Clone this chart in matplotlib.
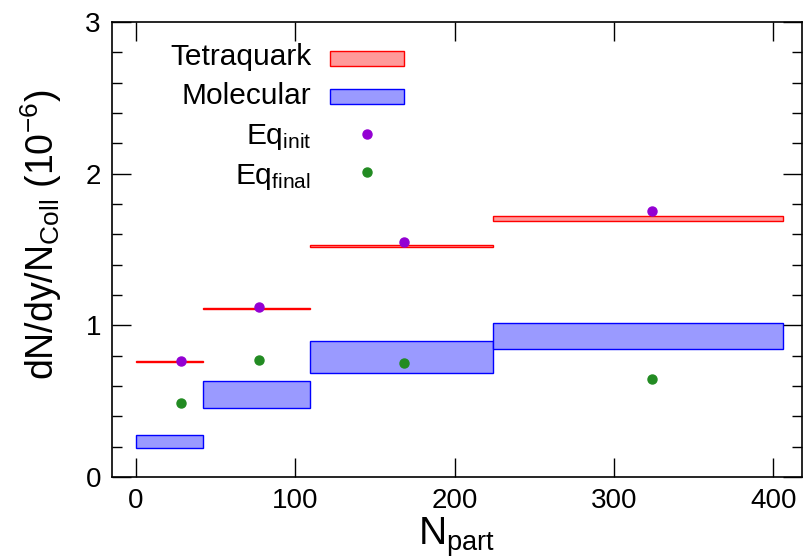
import matplotlib.pyplot as plt
from matplotlib.patches import Rectangle
from matplotlib.ticker import MultipleLocator

# bin edges in N_part
bin_left = [0, 42, 109, 224]
bin_right = [42, 109, 224, 406]

# tetraquark bands (low, high)
tetra_low = [0.755, 1.108, 1.515, 1.690]
tetra_high = [0.763, 1.116, 1.527, 1.719]

# molecular bands (low, high)
mol_low = [0.19, 0.454, 0.689, 0.842]
mol_high = [0.274, 0.634, 0.899, 1.018]

# equilibrium points
eq_x = [28, 77, 168, 324]
eq_init = [0.765, 1.118, 1.548, 1.752]
eq_final = [0.485, 0.774, 0.754, 0.645]

fam = 'Liberation Sans'
plt.rcParams['font.family'] = [fam, 'DejaVu Sans']
plt.rcParams['mathtext.fontset'] = 'custom'
plt.rcParams['mathtext.rm'] = fam
plt.rcParams['mathtext.it'] = fam

fig = plt.figure(figsize=(8.05, 5.58), dpi=100)
ax = fig.add_axes([112 / 805, 1 - 477 / 558, (802 - 112) / 805, (477 - 22) / 558])

red_edge = '#ff0000'
red_fill = '#ff9a9a'
blue_edge = '#0000ff'
blue_fill = '#9a9aff'

for i in range(len(bin_left)):
    w = bin_right[i] - bin_left[i]
    ax.add_patch(Rectangle((bin_left[i], mol_low[i]), w, mol_high[i] - mol_low[i],
                           facecolor=blue_fill, edgecolor=blue_edge, lw=1.0, zorder=2))
    ax.add_patch(Rectangle((bin_left[i], tetra_low[i]), w, tetra_high[i] - tetra_low[i],
                           facecolor=red_fill, edgecolor=red_edge, lw=1.0, zorder=2))

ax.plot(eq_x, eq_init, 'o', color='#9400d3', ms=6.5, zorder=3)
ax.plot(eq_x, eq_final, 'o', color='#228b22', ms=6.5, zorder=3)

# legend drawn by hand (gnuplot style)
leg_labels = ['Tetraquark', 'Molecular', r'Eq$_{\rm init}$', r'Eq$_{\rm final}$']
leg_y = [2.77, 2.51, 2.24, 1.98]
for lab, yy in zip(leg_labels, leg_y):
    ax.text(110, yy, lab, ha='right', va='center', fontsize=21.5)
ax.add_patch(Rectangle((122, 2.71), 46, 0.1, facecolor=red_fill, edgecolor=red_edge, lw=1.0))
ax.add_patch(Rectangle((122, 2.46), 46, 0.1, facecolor=blue_fill, edgecolor=blue_edge, lw=1.0))
ax.plot([145], [2.26], 'o', color='#9400d3', ms=6.5)
ax.plot([145], [2.01], 'o', color='#228b22', ms=6.5)

ax.set_xlim(-15, 418)
ax.set_ylim(0, 3)
ax.xaxis.set_major_locator(MultipleLocator(100))
ax.yaxis.set_major_locator(MultipleLocator(1))
ax.yaxis.set_minor_locator(MultipleLocator(0.2))
ax.tick_params(which='both', direction='in', top=True, right=True, labelsize=20)
ax.tick_params(which='major', length=14, width=1)
ax.tick_params(which='minor', length=7, width=1)
ax.tick_params(axis='x', pad=8)
ax.tick_params(axis='y', pad=8)
for s in ax.spines.values():
    s.set_linewidth(1.2)

ax.set_xlabel(r'N$_{\rm part}$', fontsize=28)
ax.set_ylabel(r'dN/dy/N$_{\rm Coll}$ (10$^{-6}$)', fontsize=27)
ax.xaxis.set_label_coords(0.5, -0.085)
ax.yaxis.set_label_coords(-0.07, 0.532)

fig.savefig('out.png', dpi=100)
